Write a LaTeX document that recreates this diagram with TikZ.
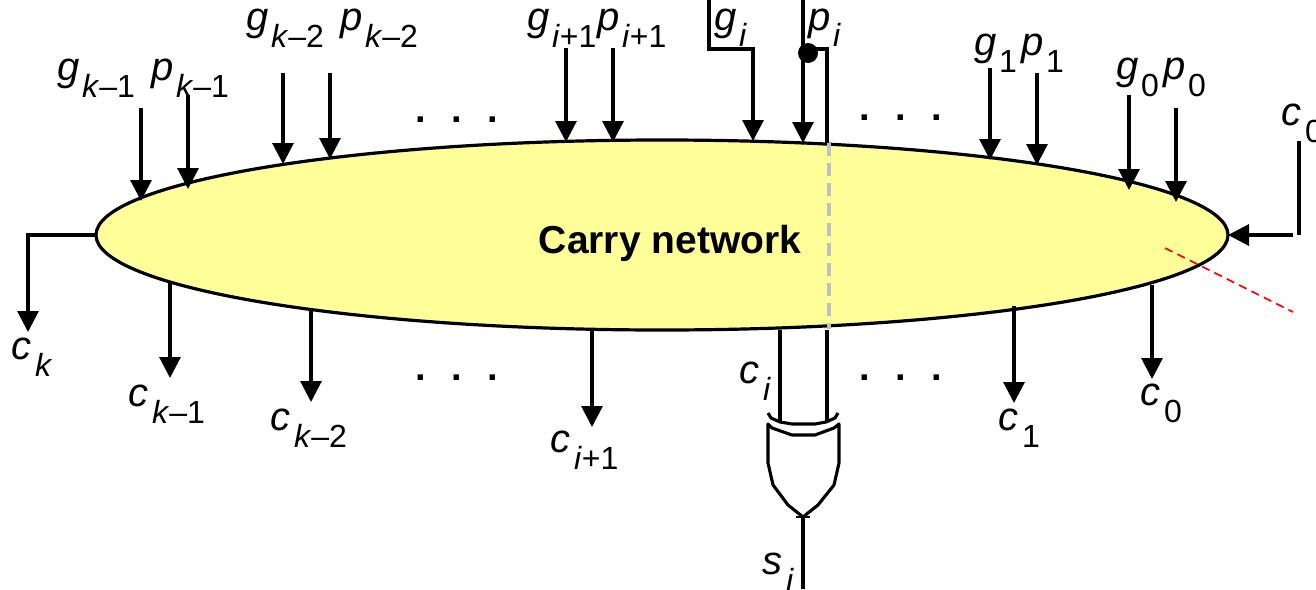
\documentclass[tikz,border=0pt]{standalone}
\usepackage{fontspec}
\setmainfont{Liberation Sans}
\usetikzlibrary{arrows.meta,shapes.geometric}
\definecolor{netfill}{HTML}{FFFF99}
\definecolor{guide}{HTML}{C0C0C0}
\newcommand{\mainf}{\fontsize{20}{20}\selectfont\itshape}
\newcommand{\subf}{\fontsize{16}{16}\selectfont\upshape}
\newcommand{\lab}[6][1.4pt]{\node[lab] (#2) at (#3,#4) {{\mainf #5}\kern#1\raisebox{-8.5pt}{\subf #6}};}
\newcommand{\conn}[4]{\coordinate (#1-a) at (#2,#3);\coordinate (#1-b) at (#2,#4);\draw[arr] (#1-a) -- (#1-b);}
\newcommand{\threedots}{\fontsize{19}{19}\selectfont\bfseries\makebox[18pt]{.}\makebox[18pt]{.}\makebox[18pt]{.}}
\tikzset{
  lab/.style={anchor=base west,inner sep=0pt,outer sep=0pt},
  wire/.style={line width=1.55pt,black},
  arr/.style={wire,-{Triangle[length=10.5pt,width=10.5pt]}},
  netshape/.style={ellipse,draw=black,fill=netfill,line width=1.6pt,minimum width=566pt,minimum height=95pt,inner sep=0pt,outer sep=0pt},
  ddots/.style={inner sep=0pt,outer sep=0pt,anchor=base},
  guideline/.style={guide,line width=2pt,dash pattern=on 6.5pt off 3.5pt},
  cutline/.style={red,line width=0.8pt,dash pattern=on 4.2pt off 2.7pt},
  gate/.style={line width=1.55pt,black,line join=round}
}
\begin{document}
\begin{tikzpicture}[x=0.5pt,y=-0.5pt]
\useasboundingbox (0,0) rectangle (1316,589);
\node[netshape] (net) at (662,235) {};
\node[inner sep=0pt,anchor=base,font=\fontsize{19.5}{19.5}\selectfont\bfseries] (carry) at (670,253) {Carry network};
% inputs
\conn{gk1}{141}{108}{201}
\conn{pk1}{188}{95}{189}
\conn{gk2}{283}{73}{164}
\conn{pk2}{330}{73}{159}
\conn{gi1}{566}{48}{142}
\conn{pi1}{613}{48}{142}
\conn{g1}{990}{68}{160}
\conn{p1}{1037}{73}{165}
\conn{g0}{1129}{95}{190}
\conn{p0}{1176}{108}{202}
% g_i
\coordinate (gi-a) at (709,0);
\coordinate (gi-b) at (753,141);
\draw[arr] (gi-a) -- (709,49) -- (753,49) -- (gi-b);
% p_i
\coordinate (pi-a) at (803,0);
\coordinate (pi-b) at (803,143);
\draw[arr] (pi-a) -- (pi-b);
\node[circle,fill=black,minimum size=10pt,inner sep=0pt,outer sep=0pt] (pdot) at (808,53) {};
\coordinate (px-a) at (827,143);
\coordinate (px-b) at (827,330);
\coordinate (gd-a) at (829,143);
\coordinate (gd-b) at (829,329);
\draw[wire] (pdot.center) -- (808,49) -- (827,49) -- (px-a);
\draw[guideline] (gd-a) -- (gd-b);
% outputs
\coordinate (ck-a) at (28,235);
\coordinate (ck-b) at (28,332);
\draw[arr] (net.west) -- (ck-a) -- (ck-b);
\conn{ck1}{170}{282}{378}
\conn{ck2}{311}{310}{402}
\conn{ci1}{592}{330}{427}
\conn{c1}{1014}{306}{403}
\conn{c0}{1152}{285}{379}
% c0 input
\coordinate (cin-t) at (1299,141);
\coordinate (cin-b) at (1299,235);
\coordinate (cin-h) at (1293,235);
\draw[wire] (cin-t) -- (cin-b);
\draw[arr] (cin-h) -- (net.east);
% red dashed
\coordinate (cut-a) at (1165,248);
\coordinate (cut-b) at (1293,312);
\draw[cutline] (cut-a) -- (cut-b);
% xor inputs
\coordinate (xa-t) at (780,330);
\coordinate (xa-b) at (780,421);
\coordinate (xb-b) at (827,421);
\draw[wire] (xa-t) -- (xa-b);
\draw[wire] (px-b) -- (xb-b);
% xor gate
\draw[gate] (768,413) -- (771,418) -- (780,422) -- (792,424) -- (815,424) -- (826,422) -- (835,418) -- (838,413);
\draw[gate] (768,424) -- (772,428) -- (792,435) -- (815,435) -- (834,428) -- (839,424) -- (839,463) -- (834,485) -- (818,505) -- (803,517) -- (788,505) -- (773,485) -- (768,463) -- cycle;
\coordinate (xo) at (803,517);
\coordinate (so) at (803,589);
\draw[wire] (xo) -- (so);
\draw[line width=0.8pt] (796,517) -- (810,517);
% dots
\node[ddots] (d1) at (457,122) {\threedots};
\node[ddots] (d2) at (901,120) {\threedots};
\node[ddots] (d3) at (457,380) {\threedots};
\node[ddots] (d4) at (901,380) {\threedots};
% labels
\lab{Lgk1}{57}{80}{g}{\textit{k}–1}
\lab{Lpk1}{151}{80}{p}{\textit{k}–1}
\lab{Lgk2}{246}{31}{g}{\textit{k}–2}
\lab{Lpk2}{340}{31}{p}{\textit{k}–2}
\lab{Lgi1}{527}{31}{g}{\textit{i}+1}
\lab{Lpi1}{597}{31}{p}{\textit{i}+1}
\lab{Lgi}{714}{30}{g}{\textit{i}}
\lab{Lpi}{808}{30}{p}{\textit{i}}
\lab{Lg1}{974}{55}{g}{1}
\lab{Lp1}{1021}{55}{p}{1}
\lab{Lg0}{1116}{79}{g}{0}
\lab{Lp0}{1163}{79}{p}{0}
\lab[2pt]{Lcin}{1281}{125}{c}{0}
\lab[2pt]{Lck}{11}{359}{c}{\textit{k}}
\lab[2pt]{Lck1}{128}{406}{c}{\textit{k}–1}
\lab[2pt]{Lck2}{270}{430}{c}{\textit{k}–2}
\lab[2pt]{Lci1}{550}{452}{c}{\textit{i}+1}
\lab[2pt]{Lci}{739}{383}{c}{\textit{i}}
\lab[2pt]{Lc1}{998}{430}{c}{1}
\lab[2pt]{Lc0}{1140}{405}{c}{0}
\lab[2pt]{Lsi}{762}{574}{s}{\textit{i}}
\end{tikzpicture}
\end{document}
